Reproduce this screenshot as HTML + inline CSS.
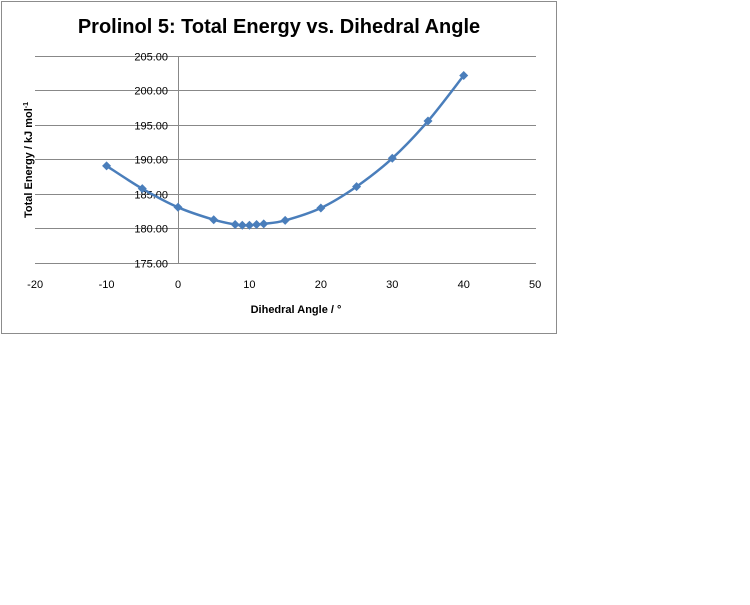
<!DOCTYPE html>
<html><head><style>
body{margin:0;background:#fff;width:750px;height:600px;overflow:hidden;font-family:"Liberation Sans",sans-serif}
</style></head><body>
<svg id="s" width="750" height="600" xmlns="http://www.w3.org/2000/svg">
<rect x="1.5" y="1.5" width="555" height="332" fill="#fff" stroke="#8c8c8c"/>
<text x="279" y="33" text-anchor="middle" font-size="20" font-weight="bold" fill="#000">Prolinol 5: Total Energy vs. Dihedral Angle</text>
<g id="grid" stroke="#888" stroke-width="1"></g>
<line x1="178.5" y1="56" x2="178.5" y2="263" stroke="#888"/>
<g id="lab" font-size="11" fill="#000"></g>
<text x="296" y="313" text-anchor="middle" font-size="11" font-weight="bold">Dihedral Angle / °</text>
<text transform="translate(32,160) rotate(-90)" text-anchor="middle" font-size="11" font-weight="bold">Total Energy / kJ mol<tspan font-size="7" dy="-4">-1</tspan></text>
<path id="ln" fill="none" stroke="#4a7ebb" stroke-width="2.5"/>
<g id="mk" fill="#4a7ebb"></g>
</svg>
<script>
var X=function(v){return 178+v*7.143},Y=function(v){return 228-(v-180)*6.9};
var g=document.getElementById('grid'),l=document.getElementById('lab'),ns='http://www.w3.org/2000/svg';
function el(p,t,a,txt){var e=document.createElementNS(ns,t);for(var k in a)e.setAttribute(k,a[k]);if(txt)e.textContent=txt;p.appendChild(e);}
for(var v=175;v<=205;v+=5){var y=Math.round(Y(v))+0.5;el(g,'line',{x1:35,x2:536,y1:y,y2:y});el(l,'text',{x:168,y:y+4,'text-anchor':'end'},v.toFixed(2));}
for(var v=-20;v<=50;v+=10){el(l,'text',{x:X(v),y:288,'text-anchor':'middle'},String(v));}
var d=[[-10,189],[-5,185.7],[0,183],[5,181.2],[8,180.5],[9,180.4],[10,180.4],[11,180.5],[12,180.6],[15,181.1],[20,182.9],[25,186],[30,190.1],[35,195.5],[40,202.1]];
var p=d.map(function(a){return[X(a[0]),Y(a[1])]});
var s='M'+p[0][0]+','+p[0][1];
for(var i=0;i<p.length-1;i++){var p0=p[i-1]||p[i],p1=p[i],p2=p[i+1],p3=p[i+2]||p2;
s+=' C'+(p1[0]+(p2[0]-p0[0])/6)+','+(p1[1]+(p2[1]-p0[1])/6)+' '+(p2[0]-(p3[0]-p1[0])/6)+','+(p2[1]-(p3[1]-p1[1])/6)+' '+p2[0]+','+p2[1];}
document.getElementById('ln').setAttribute('d',s);
var m=document.getElementById('mk');
p.forEach(function(q){el(m,'path',{d:'M'+q[0]+','+(q[1]-4.5)+'l4.5,4.5l-4.5,4.5l-4.5,-4.5z'});});
</script>
</body></html>
